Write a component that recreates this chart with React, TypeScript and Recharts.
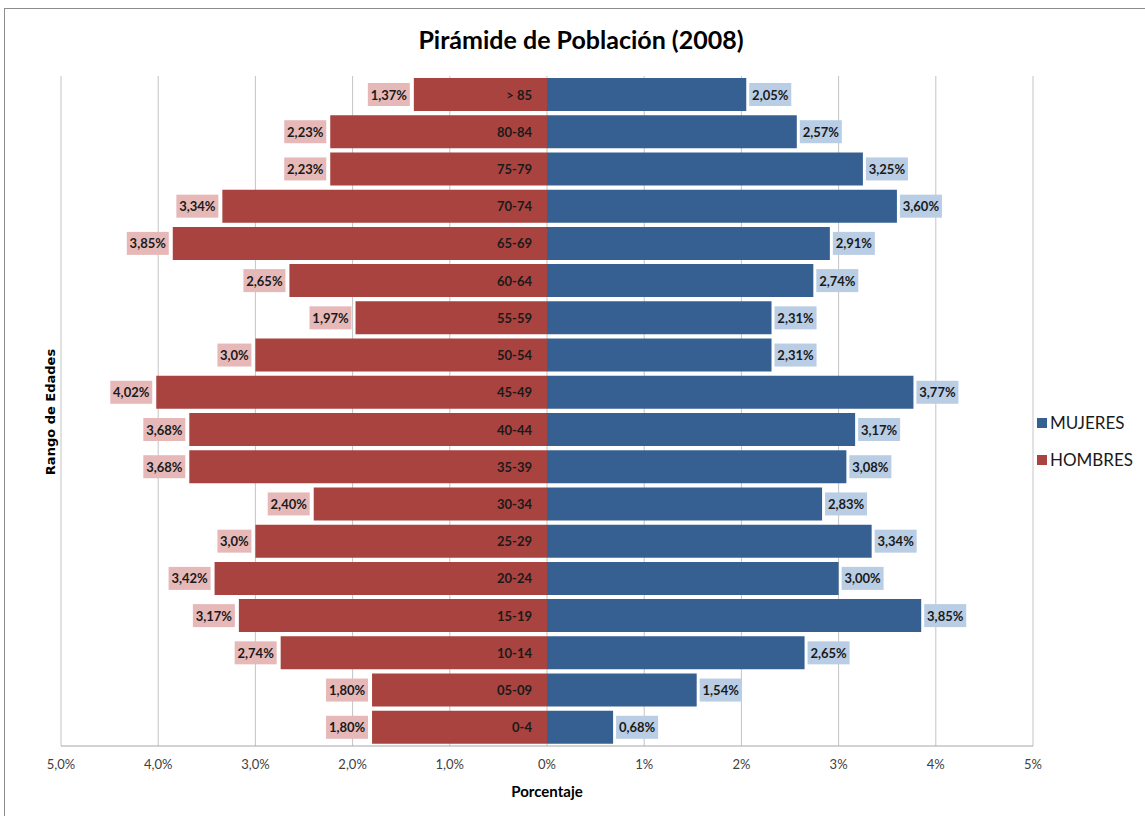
import React from "react";
import {
  BarChart,
  Bar,
  XAxis,
  YAxis,
  CartesianGrid,
  LabelList,
} from "recharts";

const categories = [
  "> 85", "80-84", "75-79", "70-74", "65-69", "60-64", "55-59", "50-54", "45-49",
  "40-44", "35-39", "30-34", "25-29", "20-24", "15-19", "10-14", "05-09", "0-4",
];
const hombresValues = [1.37, 2.23, 2.23, 3.34, 3.85, 2.65, 1.97, 3.0, 4.02, 3.68, 3.68, 2.4, 3.0, 3.42, 3.17, 2.74, 1.8, 1.8];
const hombresLabels = ["1,37%", "2,23%", "2,23%", "3,34%", "3,85%", "2,65%", "1,97%", "3,0%", "4,02%", "3,68%", "3,68%", "2,40%", "3,0%", "3,42%", "3,17%", "2,74%", "1,80%", "1,80%"];
const mujeresValues = [2.05, 2.57, 3.25, 3.6, 2.91, 2.74, 2.31, 2.31, 3.77, 3.17, 3.08, 2.83, 3.34, 3.0, 3.85, 2.65, 1.54, 0.68];
const mujeresLabels = ["2,05%", "2,57%", "3,25%", "3,60%", "2,91%", "2,74%", "2,31%", "2,31%", "3,77%", "3,17%", "3,08%", "2,83%", "3,34%", "3,00%", "3,85%", "2,65%", "1,54%", "0,68%"];
const xTicks = [-5, -4, -3, -2, -1, 0, 1, 2, 3, 4, 5];
const xTickLabels = ["5,0%", "4,0%", "3,0%", "2,0%", "1,0%", "0%", "1%", "2%", "3%", "4%", "5%"];
const legendItems = ["MUJERES", "HOMBRES"];

const data = categories.map((c, i) => ({
  cat: c,
  hombres: -hombresValues[i],
  mujeres: mujeresValues[i],
  hLabel: hombresLabels[i],
  mLabel: mujeresLabels[i],
}));

const FONT = "Lato, 'DejaVu Sans', sans-serif";
const RED = "#A9433F";
const BLUE = "#376092";
const PINK = "#E6B9B8";
const LIGHTBLUE = "#B9CDE5";
const legendColors = [BLUE, RED];

const boxW = (s: string) => s.length * 8 + 2;

const HombresLabel = (props: any) => {
  const { x, y, width, height, value } = props;
  const left = Math.min(x, x + width);
  const w = boxW(String(value));
  const cy = y + height / 2;
  return (
    <g>
      <rect x={left - 4 - w} y={cy - 11.5} width={w} height={23} fill={PINK} />
      <text x={left - 4 - w / 2} y={cy} textAnchor="middle" dominantBaseline="central"
        fontFamily={FONT} fontWeight="bold" fontSize={13} fill="#1a1a1a">{value}</text>
    </g>
  );
};

const MujeresLabel = (props: any) => {
  const { x, y, width, height, value } = props;
  const right = Math.max(x, x + width);
  const w = boxW(String(value));
  const cy = y + height / 2;
  return (
    <g>
      <rect x={right + 3} y={cy - 11.5} width={w} height={23} fill={LIGHTBLUE} />
      <text x={right + 3 + w / 2} y={cy} textAnchor="middle" dominantBaseline="central"
        fontFamily={FONT} fontWeight="bold" fontSize={13} fill="#1a1a1a">{value}</text>
    </g>
  );
};

const CatLabel = (props: any) => {
  const { x, y, width, height, value } = props;
  const right = Math.max(x, x + width);
  return (
    <text x={right - 15} y={y + height / 2} textAnchor="end" dominantBaseline="central"
      fontFamily={FONT} fontWeight="bold" fontSize={13} fill="#1a1a1a">{value}</text>
  );
};

const XTick = (props: any) => {
  const { x, y, payload } = props;
  const idx = xTicks.indexOf(payload.value);
  return (
    <text x={x} y={y + 15} textAnchor="middle" fontFamily={FONT} fontSize={13} fill="#404040">
      {idx >= 0 ? xTickLabels[idx] : ""}
    </text>
  );
};

export default function App() {
  return (
    <div style={{ position: "absolute", left: 0, top: 0, width: 1145, height: 816, background: "#fff", overflow: "hidden" }}>
      <div style={{ position: "absolute", left: 4, top: 8, width: 1160, height: 830, border: "1px solid #8c8c8c", boxSizing: "border-box" }} />
      <div style={{ position: "absolute", left: 0, top: 24, width: 1162, textAlign: "center", fontFamily: FONT, fontWeight: "bold", fontSize: 25, color: "#000" }}>
        Pirámide de Población (2008)
      </div>
      <div style={{ position: "absolute", left: 0, top: 782, width: 1094, textAlign: "center", fontFamily: FONT, fontWeight: "bold", fontSize: 15, color: "#000" }}>
        Porcentaje
      </div>
      <div style={{ position: "absolute", left: 50, top: 412, transform: "translate(-50%, -50%) rotate(-90deg)", whiteSpace: "nowrap", fontFamily: "'DejaVu Sans', sans-serif", fontWeight: "bold", fontSize: 13, color: "#000" }}>
        Rango de Edades
      </div>
      <div style={{ position: "absolute", left: 1037, top: 404, fontFamily: FONT, fontSize: 17, color: "#1a1a1a" }}>
        {legendItems.map((name, i) => (
          <div key={name} style={{ display: "flex", alignItems: "center", height: 37 }}>
            <span style={{ display: "inline-block", width: 10, height: 10, background: legendColors[i], marginRight: 3 }} />
            <span>{name}</span>
          </div>
        ))}
      </div>
      <div style={{ position: "absolute", left: 0, top: 0 }}>
        <BarChart
          width={1145}
          height={816}
          data={data}
          layout="vertical"
          stackOffset="sign"
          barSize={33}
          margin={{ top: 76, right: 112, bottom: 50, left: 61 }}
        >
          <CartesianGrid horizontal={false} vertical={true} stroke="#c4c4c4" />
          <XAxis
            type="number"
            domain={[-5, 5]}
            ticks={xTicks}
            interval={0}
            height={20}
            tick={<XTick />}
            tickLine={false}
            axisLine={{ stroke: "#a6a6a6" }}
            allowDataOverflow
          />
          <YAxis type="category" dataKey="cat" hide width={0} />
          <Bar dataKey="mujeres" name="MUJERES" stackId="a" fill={BLUE} isAnimationActive={false}>
            <LabelList dataKey="mLabel" content={<MujeresLabel />} />
          </Bar>
          <Bar dataKey="hombres" name="HOMBRES" stackId="a" fill={RED} isAnimationActive={false}>
            <LabelList dataKey="hLabel" content={<HombresLabel />} />
            <LabelList dataKey="cat" content={<CatLabel />} />
          </Bar>
        </BarChart>
      </div>
    </div>
  );
}
